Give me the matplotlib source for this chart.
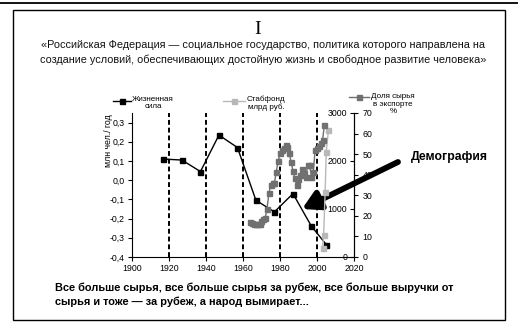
import matplotlib.pyplot as plt
from matplotlib.lines import Line2D
from matplotlib.patches import Rectangle

plt.rcParams['font.family'] = ['Liberation Sans', 'DejaVu Sans']

# Жизненная сила (млн чел./год)
life_years = [1917, 1927, 1937, 1947, 1957, 1967, 1977, 1987, 1997, 2005]
life_force = [0.11, 0.105, 0.045, 0.235, 0.17, -0.105, -0.165, -0.07, -0.24, -0.335]

# Доля сырья в экспорте, %
share_years = list(range(1964, 2005))
raw_share = [17.2, 16.5, 16.0, 15.8, 15.8, 16.0, 17.5, 18.5, 19.0, 23.5,
             31.0, 35.0, 35.8, 36.2, 41.5, 46.5, 50.5, 52.0, 53.2, 54.4,
             53.5, 50.5, 46.0, 42.0, 38.5, 35.0, 38.0, 40.0, 43.0, 41.0,
             39.0, 44.5, 44.5, 39.0, 41.5, 52.0, 53.0, 54.0, 55.5, 57.0,
             64.0]

# Стабфонд, млрд руб.
fund_years = [2003.0, 2003.6, 2004.4, 2005.0, 2006.2]
stab_fund = [190, 460, 1360, 2190, 2650]

decades = [1920, 1940, 1960, 1980, 2000]

W, H = 518, 323
fig = plt.figure(figsize=(W / 100, H / 100), dpi=100)


def fx(px):
    return px / W


def fy(py):
    return 1 - py / H


# рамка слайда
fig.add_artist(Line2D([0, 1], [fy(3), fy(3)], color='black', lw=1.3))
fig.add_artist(Rectangle((fx(13), fy(320)), fx(505) - fx(13), fy(10) - fy(320),
                         fill=False, ec='black', lw=1.0))

fig.text(fx(258), fy(29), 'I', family='Liberation Serif', fontsize=14,
         ha='center', va='center')
fig.text(fx(263), fy(52.5),
         '«Российская Федерация — социальное государство, политика которого направлена на\n'
         'создание условий, обеспечивающих достойную жизнь и свободное развитие человека»',
         fontsize=7.8, ha='center', va='center', linespacing=1.5, color='#111111')

ax = fig.add_axes([fx(132), fy(257), fx(354) - fx(132), fy(113) - fy(257)])
ax.plot(life_years, life_force, color='black', lw=1, marker='s', ms=3.6, zorder=5)
for d in decades:
    ax.axvline(d, color='black', lw=1.4, ls=(0, (2.5, 1.5)), zorder=1)
ax.set_xlim(1900, 2020)
ax.set_ylim(-0.4, 0.35)
ax.set_xticks(range(1900, 2021, 20))
ax.set_yticks([-0.4, -0.3, -0.2, -0.1, 0.0, 0.1, 0.2, 0.3])
ax.set_yticklabels([f'{v:.1f}'.replace('.', ',') for v in ax.get_yticks()])
ax.spines['top'].set_visible(False)
ax.spines['right'].set_visible(False)
ax.tick_params(labelsize=6.3, length=3, width=0.8, pad=2)
ax.set_ylabel('млн чел./ год', fontsize=6.3)
ax.yaxis.set_label_coords(-0.085, 0.81)

# Стабфонд: шкала слева от правой оси
ax2 = ax.twinx()
ax2.plot(fund_years, stab_fund, color='#b8b8b8', lw=1, marker='s', ms=3.6, zorder=4)
ax2.set_ylim(0, 3000)
ax2.set_yticks([0, 1000, 2000, 3000])
ax2.spines['left'].set_position(('axes', 1.0))
ax2.yaxis.set_ticks_position('left')
ax2.yaxis.set_label_position('left')
for s in ['top', 'right', 'bottom']:
    ax2.spines[s].set_visible(False)
ax2.tick_params(labelsize=6.3, length=3, width=0.8, pad=2)

# Доля сырья: шкала справа
ax3 = ax.twinx()
ax3.plot(share_years, raw_share, color='#707070', lw=1, marker='s', ms=3.6, zorder=3)
ax3.set_ylim(0, 70)
ax3.set_yticks(range(0, 71, 10))
for s in ['top', 'left', 'bottom']:
    ax3.spines[s].set_visible(False)
ax3.tick_params(labelsize=6.3, length=3, width=0.8, pad=3)
for a in (ax2, ax3):
    a.patch.set_visible(False)


# легенды над графиком
def legend_entry(x0, x1, y, color, label, tx):
    fig.add_artist(Line2D([fx(x0), fx(x1)], [fy(y), fy(y)], color=color, lw=1))
    fig.add_artist(Line2D([fx((x0 + x1) / 2)], [fy(y)], color=color, marker='s',
                          ms=3.6, lw=0))
    fig.text(fx(tx), fy(y - 4.5), label, fontsize=5.8, ha='center', va='top',
             multialignment='center', linespacing=1.1)


legend_entry(113, 131, 100.5, 'black', 'Жизненная\nсила', 153)
legend_entry(223, 245, 100.5, '#b8b8b8', 'Стабфонд\nмлрд руб.', 266)
legend_entry(349, 369, 97.5, '#707070', 'Доля сырья\nв экспорте\n%', 393)

# стрелка
ax.annotate('', xy=(fx(302), fy(209)), xytext=(fx(398), fy(162)),
            xycoords='figure fraction', textcoords='figure fraction',
            arrowprops=dict(arrowstyle='-|>,head_length=0.8,head_width=0.45',
                            lw=4.2, color='black', mutation_scale=13,
                            shrinkA=0, shrinkB=0))
fig.text(fx(411), fy(157), 'Демография', fontsize=8.8, weight='bold',
         ha='left', va='center')

fig.text(fx(55), fy(294.5),
         'Все больше сырья, все больше сырья за рубеж, все больше выручки от\n'
         'сырья и тоже — за рубеж, а народ вымирает...',
         fontsize=7.9, weight='bold', ha='left', va='center', linespacing=1.45)

fig.savefig('out.png', dpi=100)
